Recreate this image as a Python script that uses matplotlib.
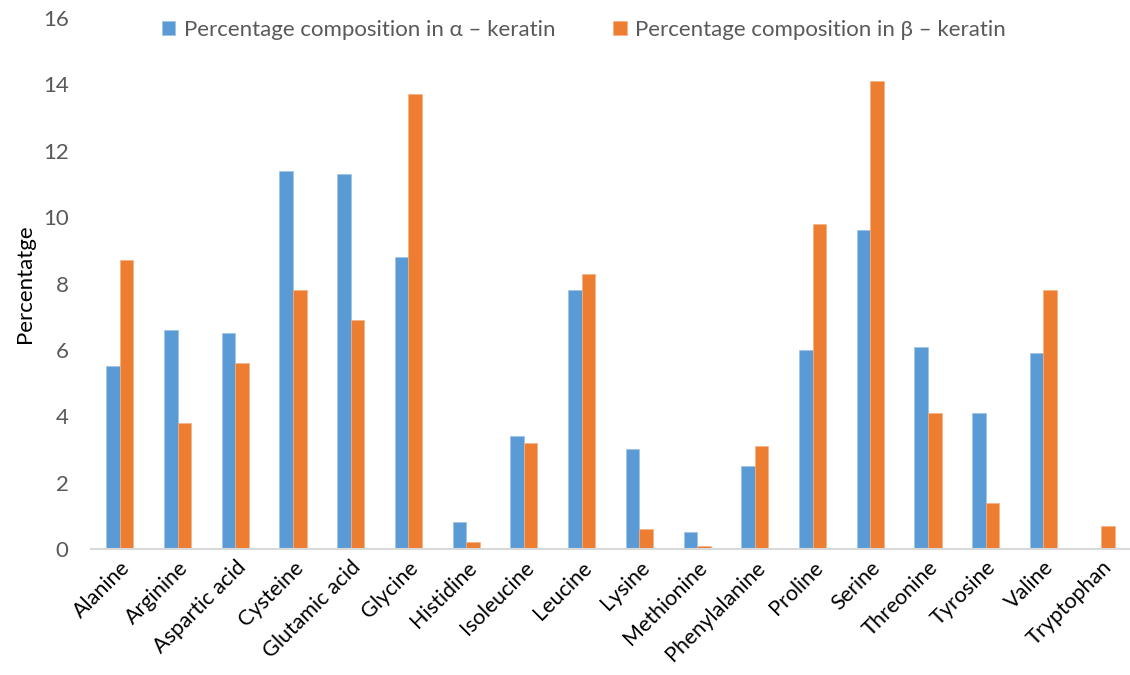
import numpy as np
import matplotlib
matplotlib.use("Agg")
import matplotlib.pyplot as plt

plt.rcParams["font.family"] = ["Lato", "DejaVu Sans"]

acids = ["Alanine", "Arginine", "Aspartic acid", "Cysteine", "Glutamic acid", "Glycine",
         "Histidine", "Isoleucine", "Leucine", "Lysine", "Methionine", "Phenylalanine",
         "Proline", "Serine", "Threonine", "Tyrosine", "Valine", "Tryptophan"]
alpha_pct = [5.5, 6.6, 6.5, 11.4, 11.3, 8.8, 0.8, 3.4, 7.8, 3.0, 0.5, 2.5, 6.0, 9.6, 6.1, 4.1, 5.9, 0.0]
beta_pct = [8.7, 3.8, 5.6, 7.8, 6.9, 13.7, 0.2, 3.2, 8.3, 0.6, 0.1, 3.1, 9.8, 14.1, 4.1, 1.4, 7.8, 0.7]
yticks = [0, 2, 4, 6, 8, 10, 12, 14, 16]

BLUE, ORANGE = "#5B9BD5", "#ED7D31"

fig = plt.figure(figsize=(11.3, 6.75), dpi=100)
ax = fig.add_axes([0.0805, 0.1867, 0.9195, 0.7866])

x = np.arange(len(acids))
w = 0.235
ax.bar(x - w/2, alpha_pct, w, color=BLUE, edgecolor="#9DC3E6", linewidth=0.5,
       label="Percentage composition in α – keratin")
ax.bar(x + w/2, beta_pct, w, color=ORANGE, edgecolor="#F4B183", linewidth=0.5,
       label="Percentage composition in β – keratin")

ax.set_xlim(-0.5, len(acids) - 0.5)
ax.set_ylim(0, 16)
ax.set_yticks(yticks)
ax.tick_params(axis="y", length=0, labelsize=16, labelcolor="#595959", pad=16)
ax.tick_params(axis="x", length=0, labelsize=15.5, pad=6)
ax.set_xticks(x)
ax.set_xticklabels(acids, rotation=45, ha="right", rotation_mode="anchor")
for s in ("top", "right", "left"):
    ax.spines[s].set_visible(False)
ax.spines["bottom"].set_color("#D9D9D9")
ax.spines["bottom"].set_linewidth(1.5)
ax.set_ylabel("Percentatge", fontsize=16, labelpad=6)

fig.legend(loc="center", bbox_to_anchor=(584/1130, 1 - 30/675), ncol=2, frameon=False,
           fontsize=16, labelcolor="#595959", handlelength=0.6, handleheight=0.6,
           handletextpad=0.4, columnspacing=2.6)

fig.savefig("out.png", dpi=100)
